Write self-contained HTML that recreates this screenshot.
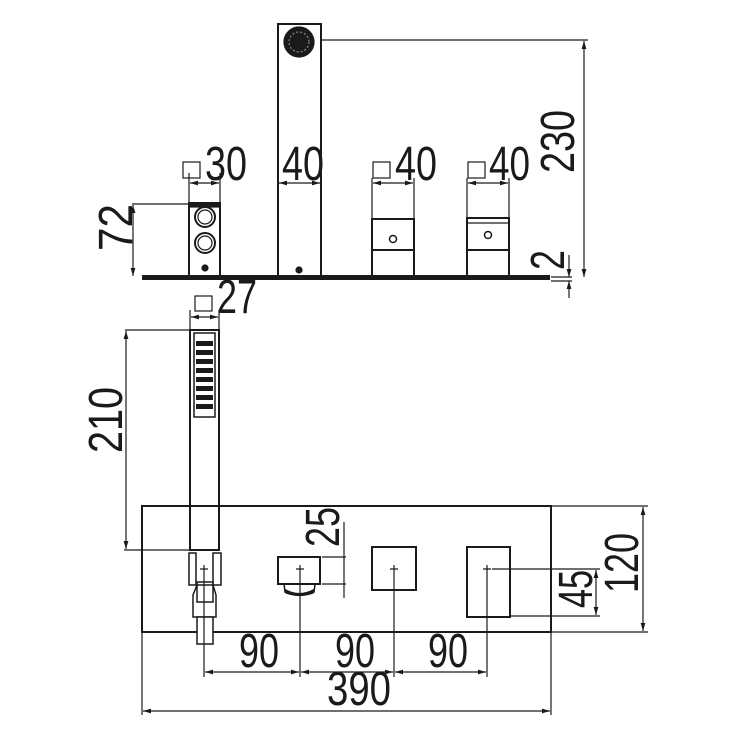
<!DOCTYPE html>
<html><head><meta charset="utf-8"><style>html,body{margin:0;padding:0;background:#fff}svg{display:block}text{font-family:"Liberation Sans",sans-serif;font-size:48px;fill:#1a1a1a}</style></head>
<body>
<svg width="737" height="737" viewBox="0 0 737 737" xmlns="http://www.w3.org/2000/svg">
<defs>
<marker id="a" viewBox="0 0 10 6" refX="10" refY="3" markerWidth="8" markerHeight="5" orient="auto-start-reverse" markerUnits="userSpaceOnUse"><path d="M0,0 L10,3 L0,6z" fill="#1a1a1a"/></marker>
</defs>
<g stroke="#1a1a1a" fill="none" stroke-width="1.2">
<!-- TOP VIEW -->
<rect x="142" y="275" width="408" height="5" fill="#1a1a1a" stroke="none"/>
<!-- spout -->
<rect x="278" y="24" width="43" height="252" stroke-width="2"/>
<circle cx="299" cy="42" r="15" fill="#1a1a1a"/>
<circle cx="299" cy="42" r="10" stroke="#888" stroke-dasharray="2 2"/>
<circle cx="299" cy="270" r="3" fill="#1a1a1a"/>
<!-- left fitting -->
<rect x="189" y="203" width="31" height="73" stroke-width="2"/>
<rect x="190" y="203" width="29" height="4" fill="#1a1a1a"/>
<circle cx="205" cy="217" r="10" stroke-width="2"/><circle cx="205" cy="217" r="7"/>
<circle cx="205" cy="243" r="10" stroke-width="2"/><circle cx="205" cy="243" r="7"/>
<circle cx="205" cy="268" r="3" fill="#1a1a1a"/>
<!-- valves -->
<rect x="372" y="219" width="42" height="57" stroke-width="2"/><line x1="372" y1="250" x2="414" y2="250" stroke-width="2"/><circle cx="393" cy="239" r="3.5" stroke-width="1.5"/>
<rect x="467" y="218" width="42" height="58" stroke-width="2"/><line x1="467" y1="223" x2="509" y2="223"/><line x1="467" y1="250" x2="509" y2="250" stroke-width="2"/><circle cx="488" cy="235" r="3.5" stroke-width="1.5"/>
<!-- dims top -->
<line x1="189" y1="173" x2="189" y2="203"/><line x1="220" y1="173" x2="220" y2="203"/>
<line x1="190" y1="183" x2="219" y2="183" marker-start="url(#a)" marker-end="url(#a)"/>
<line x1="279" y1="183" x2="320" y2="183" marker-start="url(#a)" marker-end="url(#a)"/>
<line x1="372" y1="178" x2="372" y2="218"/><line x1="414" y1="178" x2="414" y2="218"/>
<line x1="373" y1="183" x2="413" y2="183" marker-start="url(#a)" marker-end="url(#a)"/>
<line x1="467" y1="178" x2="467" y2="217"/><line x1="509" y1="178" x2="509" y2="217"/>
<line x1="468" y1="183" x2="508" y2="183" marker-start="url(#a)" marker-end="url(#a)"/>
<line x1="132" y1="204" x2="189" y2="204"/>
<line x1="133" y1="205" x2="133" y2="276" marker-start="url(#a)" marker-end="url(#a)"/>
<line x1="320" y1="40" x2="588" y2="40"/>
<line x1="584" y1="41" x2="584" y2="277" marker-start="url(#a)" marker-end="url(#a)"/>
<line x1="551" y1="277" x2="572" y2="277"/><line x1="551" y1="281" x2="572" y2="281"/>
<line x1="569" y1="255" x2="569" y2="277" marker-end="url(#a)"/><line x1="569" y1="298" x2="569" y2="281" marker-end="url(#a)"/>
<!-- squares -->
<rect x="183" y="162" width="17" height="16"/><rect x="373" y="162" width="17" height="16"/><rect x="468" y="162" width="17" height="16"/><rect x="195" y="296" width="17" height="15"/>
<!-- hand shower -->
<rect x="190" y="330" width="29" height="220" stroke-width="2"/>
<rect x="194" y="333" width="21" height="84" stroke-width="1.5"/>
<g fill="#1a1a1a" stroke="none">
<rect x="196" y="341" width="17" height="5"/><rect x="196" y="350" width="17" height="5"/><rect x="196" y="359" width="17" height="5"/><rect x="196" y="368" width="17" height="5"/><rect x="196" y="377" width="17" height="5"/><rect x="196" y="386" width="17" height="5"/><rect x="196" y="395" width="17" height="5"/><rect x="196" y="404" width="17" height="5"/>
</g>
<line x1="191" y1="317" x2="218" y2="317" marker-start="url(#a)" marker-end="url(#a)"/>
<line x1="190" y1="310" x2="190" y2="330"/><line x1="219" y1="310" x2="219" y2="330"/>
<line x1="125" y1="330" x2="190" y2="330"/>
<line x1="126" y1="331" x2="126" y2="549" marker-start="url(#a)" marker-end="url(#a)"/>
<line x1="124" y1="550" x2="190" y2="550"/>
<!-- plate -->
<rect x="142" y="506" width="409" height="126" stroke-width="2"/>
<!-- connector -->
<rect x="189" y="553" width="7" height="32" stroke-width="1.5" fill="#fff"/>
<rect x="213" y="553" width="8" height="32" stroke-width="1.5" fill="#fff"/>
<path d="M193,595 L197,585 L213,585 L216,595 L216,617 L193,617Z" stroke-width="1.5" fill="#fff"/>
<rect x="197" y="582" width="16" height="20" stroke-width="1.5"/>
<rect x="197" y="617" width="16" height="27" stroke-width="1.5" fill="#fff"/>
<!-- diverter -->
<rect x="278" y="557" width="42" height="27" stroke-width="2"/>
<path d="M284,584 L285,592 Q299,598 314,592 L315,584" stroke-width="1.5"/>
<path d="M286,590 Q299,597 313,590 L313,593 Q299,598 286,593Z" fill="#1a1a1a"/>
<rect x="372" y="547" width="44" height="43" stroke-width="2"/>
<rect x="467" y="547" width="43" height="70" stroke-width="2"/>
<!-- crosses -->
<path d="M200,569h8M204,565v8M296,569h8M300,565v8M390,569h8M394,565v8M483,569h8M487,565v8"/>
<!-- dims bottom -->
<line x1="204" y1="573" x2="204" y2="677"/><line x1="300" y1="573" x2="300" y2="677"/><line x1="394" y1="573" x2="394" y2="677"/><line x1="487" y1="573" x2="487" y2="677"/>
<line x1="205" y1="672" x2="299" y2="672" marker-start="url(#a)" marker-end="url(#a)"/>
<line x1="301" y1="672" x2="393" y2="672" marker-start="url(#a)" marker-end="url(#a)"/>
<line x1="395" y1="672" x2="486" y2="672" marker-start="url(#a)" marker-end="url(#a)"/>
<line x1="142" y1="632" x2="142" y2="715"/><line x1="551" y1="632" x2="551" y2="715"/>
<line x1="143" y1="711" x2="550" y2="711" marker-start="url(#a)" marker-end="url(#a)"/>
<line x1="322" y1="557" x2="346" y2="557"/><line x1="322" y1="584" x2="346" y2="584"/>
<line x1="344" y1="522" x2="344" y2="598"/>
<line x1="492" y1="569" x2="600" y2="569"/><line x1="510" y1="616" x2="600" y2="616"/>
<line x1="596" y1="570" x2="596" y2="615" marker-start="url(#a)" marker-end="url(#a)"/>
<line x1="551" y1="506" x2="648" y2="506"/><line x1="551" y1="632" x2="648" y2="632"/>
<line x1="643" y1="507" x2="643" y2="631" marker-start="url(#a)" marker-end="url(#a)"/>
</g>
<!-- texts -->
<text x="205" y="180" textLength="42" lengthAdjust="spacingAndGlyphs">30</text>
<text x="282" y="180" textLength="42" lengthAdjust="spacingAndGlyphs">40</text>
<text x="395" y="180" textLength="42" lengthAdjust="spacingAndGlyphs">40</text>
<text x="489" y="180" textLength="41" lengthAdjust="spacingAndGlyphs">40</text>
<text x="217" y="313" textLength="40" lengthAdjust="spacingAndGlyphs">27</text>
<text x="239" y="667" textLength="40" lengthAdjust="spacingAndGlyphs">90</text>
<text x="335" y="667" textLength="40" lengthAdjust="spacingAndGlyphs">90</text>
<text x="428" y="667" textLength="40" lengthAdjust="spacingAndGlyphs">90</text>
<text x="327" y="705" textLength="64" lengthAdjust="spacingAndGlyphs">390</text>
<g transform="translate(115,228) rotate(-90)"><text x="-23" y="17" textLength="47" lengthAdjust="spacingAndGlyphs">72</text></g>
<g transform="translate(105,420) rotate(-90)"><text x="-33" y="17" textLength="66" lengthAdjust="spacingAndGlyphs">210</text></g>
<g transform="translate(557,141) rotate(-90)"><text x="-32" y="17" textLength="63" lengthAdjust="spacingAndGlyphs">230</text></g>
<g transform="translate(547,260) rotate(-90)"><text x="-10" y="17" textLength="20" lengthAdjust="spacingAndGlyphs">2</text></g>
<g transform="translate(322,527) rotate(-90)"><text x="-20" y="17" textLength="40" lengthAdjust="spacingAndGlyphs">25</text></g>
<g transform="translate(575,589) rotate(-90)"><text x="-19" y="17" textLength="38" lengthAdjust="spacingAndGlyphs">45</text></g>
<g transform="translate(621,563) rotate(-90)"><text x="-30" y="17" textLength="60" lengthAdjust="spacingAndGlyphs">120</text></g>
</svg>
</body></html>
